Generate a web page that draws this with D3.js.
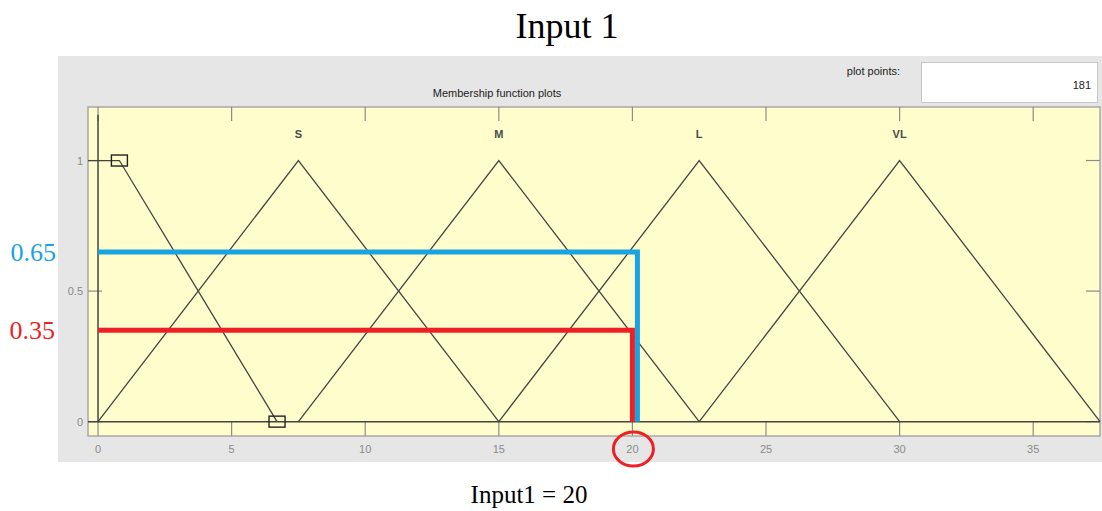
<!DOCTYPE html>
<html>
<head>
<meta charset="utf-8">
<script src="https://cdn.jsdelivr.net/npm/d3@7"></script>
<style>
  html, body { margin: 0; padding: 0; background: #ffffff; }
  svg { display: block; }
</style>
</head>
<body>
<svg id="chart" width="1102" height="511"></svg>
<script>
// Input variable range and membership functions
const xTicks = [0, 5, 10, 15, 20, 25, 30, 35];
const yTicks = [0, 0.5, 1];
const xLimits = [-0.375, 37.5];
const yLimits = [-0.055, 1.205];

const mfNames = ["S", "M", "L", "VL"];
const mfParams = [
  [0, 7.5, 15],
  [7.5, 15, 22.5],
  [15, 22.5, 30],
  [22.5, 30, 37.5]
];
// First (selected) membership function: shoulder falling from 1 to 0
const firstMfX = [-0.375, 0.8, 6.7];
const firstMfY = [1, 1, 0];
const handlePoints = [[0.8, 1], [6.7, 0]];

// Crisp input and resulting memberships
const inputValue = 20;
const membershipHigh = 0.65;
const membershipLow = 0.35;
const plotPoints = 181;

const svg = d3.select("#chart");

// grey panel
svg.append("rect")
  .attr("x", 58).attr("y", 56).attr("width", 1044).attr("height", 406)
  .attr("fill", "#e6e6e6");

// title
svg.append("text")
  .attr("x", 567).attr("y", 38)
  .attr("text-anchor", "middle")
  .attr("font-family", "Liberation Serif, serif")
  .attr("font-size", 36)
  .attr("fill", "#000")
  .text("Input 1");

svg.append("text")
  .attr("x", 497).attr("y", 97)
  .attr("text-anchor", "middle")
  .attr("font-family", "Liberation Sans, Arial, sans-serif")
  .attr("font-size", 11)
  .attr("fill", "#222")
  .text("Membership function plots");

svg.append("text")
  .attr("x", 900).attr("y", 75)
  .attr("text-anchor", "end")
  .attr("font-family", "Liberation Sans, Arial, sans-serif")
  .attr("font-size", 11)
  .attr("fill", "#222")
  .text("plot points:");

svg.append("rect")
  .attr("x", 921.5).attr("y", 62.5).attr("width", 176).attr("height", 40)
  .attr("fill", "#fff").attr("stroke", "#c8c8c8");

svg.append("text")
  .attr("x", 1091).attr("y", 89)
  .attr("text-anchor", "end")
  .attr("font-family", "Liberation Sans, Arial, sans-serif")
  .attr("font-size", 11)
  .attr("fill", "#222")
  .text(plotPoints);

// plot box
const box = { left: 88, right: 1100, top: 107, bottom: 436 };
const x = d3.scaleLinear().domain(xLimits).range([box.left, box.right]);
const y = d3.scaleLinear().domain(yLimits).range([box.bottom, box.top]);

svg.append("rect")
  .attr("x", box.left).attr("y", box.top)
  .attr("width", box.right - box.left).attr("height", box.bottom - box.top)
  .attr("fill", "#fffdcb").attr("stroke", "#a8a8a8").attr("stroke-width", 1.5);

const tickLen = 14;
const tickColor = "#8c8c8c";
const plot = svg.append("g");

// bottom / top ticks
xTicks.forEach(t => {
  plot.append("line")
    .attr("x1", x(t)).attr("x2", x(t))
    .attr("y1", box.bottom).attr("y2", box.bottom - tickLen)
    .attr("stroke", tickColor).attr("stroke-width", 1.2);
  plot.append("line")
    .attr("x1", x(t)).attr("x2", x(t))
    .attr("y1", box.top).attr("y2", box.top + tickLen)
    .attr("stroke", tickColor).attr("stroke-width", 1.2);
  plot.append("text")
    .attr("x", x(t)).attr("y", box.bottom + 17)
    .attr("text-anchor", "middle")
    .attr("font-family", "Liberation Sans, Arial, sans-serif")
    .attr("font-size", 11)
    .attr("fill", "#8a8a8a")
    .text(t);
});

// left / right ticks
yTicks.forEach(t => {
  plot.append("line")
    .attr("x1", box.left).attr("x2", box.left + tickLen)
    .attr("y1", y(t)).attr("y2", y(t))
    .attr("stroke", tickColor).attr("stroke-width", 1.2);
  plot.append("line")
    .attr("x1", box.right).attr("x2", box.right - tickLen)
    .attr("y1", y(t)).attr("y2", y(t))
    .attr("stroke", tickColor).attr("stroke-width", 1.2);
  plot.append("text")
    .attr("x", box.left - 5).attr("y", y(t) + 4)
    .attr("text-anchor", "end")
    .attr("font-family", "Liberation Sans, Arial, sans-serif")
    .attr("font-size", 11)
    .attr("fill", "#8a8a8a")
    .text(t);
});

const mfColor = "#444444";
const line = d3.line().x(d => x(d[0])).y(d => y(d[1]));

// baseline and left reference line at input minimum
plot.append("line")
  .attr("x1", box.left).attr("x2", box.right)
  .attr("y1", y(0)).attr("y2", y(0))
  .attr("stroke", mfColor).attr("stroke-width", 1.5);
plot.append("line")
  .attr("x1", x(0)).attr("x2", x(0))
  .attr("y1", y(0)).attr("y2", y(1.175))
  .attr("stroke", mfColor).attr("stroke-width", 1.5);

// triangular membership functions
mfParams.forEach((p, i) => {
  plot.append("path")
    .attr("d", line([[p[0], 0], [p[1], 1], [p[2], 0]]))
    .attr("fill", "none").attr("stroke", mfColor).attr("stroke-width", 1.3);
  plot.append("text")
    .attr("x", x(p[1])).attr("y", y(1.085))
    .attr("text-anchor", "middle")
    .attr("font-family", "Liberation Sans, Arial, sans-serif")
    .attr("font-size", 11)
    .attr("font-weight", "bold")
    .attr("fill", "#4a4a4a")
    .text(mfNames[i]);
});

// selected membership function with its handles
plot.append("path")
  .attr("d", line(firstMfX.map((v, i) => [v, firstMfY[i]])))
  .attr("fill", "none").attr("stroke", mfColor).attr("stroke-width", 1.3);
handlePoints.forEach(pt => {
  plot.append("rect")
    .attr("x", x(pt[0]) - 8).attr("y", y(pt[1]) - 5.5)
    .attr("width", 16).attr("height", 11)
    .attr("fill", "none").attr("stroke", "#222").attr("stroke-width", 1.4);
});

// membership readout lines for the crisp input
const blue = "#18a3e3";
const red = "#ee1f26";
const lw = 5;

plot.append("path")
  .attr("d", `M${x(0)},${y(membershipHigh)}H${x(inputValue) + lw}V${y(0)}`)
  .attr("fill", "none").attr("stroke", blue).attr("stroke-width", lw);
plot.append("path")
  .attr("d", `M${x(0)},${y(membershipLow)}H${x(inputValue)}V${y(0)}`)
  .attr("fill", "none").attr("stroke", red).attr("stroke-width", lw);

svg.append("text")
  .attr("x", 56).attr("y", y(membershipHigh) + 9)
  .attr("text-anchor", "end")
  .attr("font-family", "Liberation Serif, serif")
  .attr("font-size", 26)
  .attr("fill", blue)
  .text(membershipHigh);
svg.append("text")
  .attr("x", 55).attr("y", y(membershipLow) + 9)
  .attr("text-anchor", "end")
  .attr("font-family", "Liberation Serif, serif")
  .attr("font-size", 26)
  .attr("fill", red)
  .text(membershipLow);

// circle around the input tick label
svg.append("ellipse")
  .attr("cx", x(inputValue) + 1).attr("cy", 449)
  .attr("rx", 20).attr("ry", 17)
  .attr("fill", "none").attr("stroke", red).attr("stroke-width", 3);

svg.append("text")
  .attr("x", 529).attr("y", 503)
  .attr("text-anchor", "middle")
  .attr("font-family", "Liberation Serif, serif")
  .attr("font-size", 25)
  .attr("fill", "#000")
  .text(`Input1 = ${inputValue}`);
</script>
</body>
</html>
